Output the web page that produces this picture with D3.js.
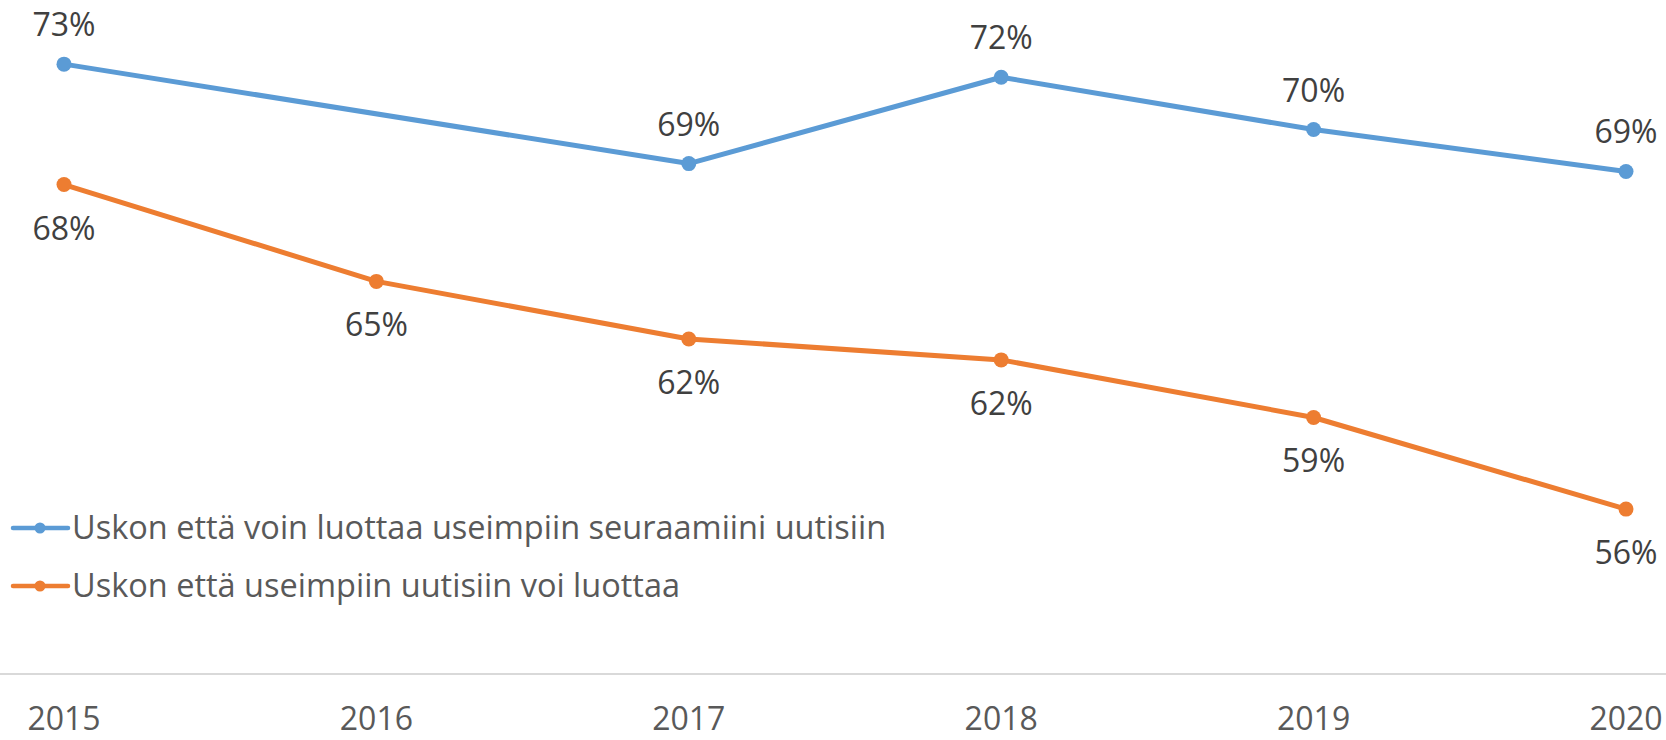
<!DOCTYPE html>
<html>
<head>
<meta charset="utf-8">
<script src="https://cdn.jsdelivr.net/npm/d3@7"></script>
<style>
  html, body { margin: 0; padding: 0; background: #fff; }
  svg { display: block; font-family: "Open Sans", "Noto Sans", sans-serif; }
</style>
</head>
<body>
<svg id="chart" width="1666" height="740"></svg>
<script>
// years on the category axis
var years = ['2015', '2016', '2017', '2018', '2019', '2020'];

// series values (percent); blue has no 2016 point
var voinLuottaa = [72.9, null, 69.1, 72.4, 70.4, 68.8];
var voiLuottaa = [68.3, 64.6, 62.4, 61.6, 59.4, 55.9];

var seriesNames = [
  'Uskon että voin luottaa useimpiin seuraamiini uutisiin',
  'Uskon että useimpiin uutisiin voi luottaa'
];
var seriesColors = ['#5B9BD5', '#ED7D31'];

var svg = d3.select('#chart');
var W = +svg.attr('width'), H = +svg.attr('height');

var x = d3.scalePoint().domain(years).range([64, 1626]);
var y = d3.scaleLinear().domain([49.6, 75.35]).range([674, 0]);

// category axis: plain grey line with year labels
svg.append('line')
  .attr('x1', 0).attr('x2', W)
  .attr('y1', 674).attr('y2', 674)
  .attr('stroke', '#d9d9d9').attr('stroke-width', 2);

svg.append('g').selectAll('text')
  .data(years)
  .enter().append('text')
  .attr('x', function (d) { return x(d); })
  .attr('y', 730)
  .attr('text-anchor', 'middle')
  .attr('font-size', 32)
  .attr('fill', '#595959')
  .text(function (d) { return d; });

var series = [
  { name: seriesNames[0], values: voinLuottaa, color: seriesColors[0], above: true },
  { name: seriesNames[1], values: voiLuottaa, color: seriesColors[1], above: false }
];

series.forEach(function (s) {
  // missing values are skipped and the line joins the neighbours
  var pts = s.values.map(function (v, i) { return { v: v, i: i }; })
    .filter(function (p) { return p.v != null; });

  svg.append('path')
    .datum(pts)
    .attr('fill', 'none')
    .attr('stroke', s.color)
    .attr('stroke-width', 5)
    .attr('stroke-linejoin', 'round')
    .attr('d', d3.line()
      .x(function (p) { return x(years[p.i]); })
      .y(function (p) { return y(p.v); }));

  var g = svg.append('g');
  g.selectAll('circle')
    .data(pts)
    .enter().append('circle')
    .attr('cx', function (p) { return x(years[p.i]); })
    .attr('cy', function (p) { return y(p.v); })
    .attr('r', 7.5)
    .attr('fill', s.color);

  g.selectAll('text')
    .data(pts)
    .enter().append('text')
    .attr('x', function (p) { return x(years[p.i]); })
    .attr('y', function (p) { return s.above ? y(p.v) - 28 : y(p.v) + 55; })
    .attr('text-anchor', 'middle')
    .attr('font-size', 32)
    .attr('fill', '#404040')
    .text(function (p) { return Math.round(p.v) + '%'; });
});

// legend, bottom left
var legend = svg.append('g');
series.forEach(function (s, i) {
  var ly = 528 + i * 58;
  legend.append('line')
    .attr('x1', 13).attr('x2', 68)
    .attr('y1', ly).attr('y2', ly)
    .attr('stroke', s.color).attr('stroke-width', 4.5)
    .attr('stroke-linecap', 'round');
  legend.append('circle')
    .attr('cx', 40).attr('cy', ly).attr('r', 5.5)
    .attr('fill', s.color);
  legend.append('text')
    .attr('x', 72).attr('y', ly + 11)
    .attr('font-size', 32.5)
    .attr('fill', '#595959')
    .text(s.name);
});
</script>
</body>
</html>
